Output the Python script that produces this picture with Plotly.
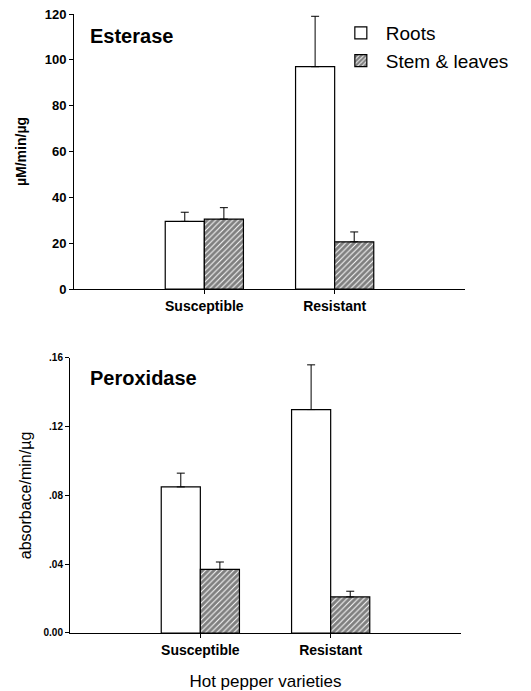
import plotly.graph_objects as go

categories = ["Susceptible", "Resistant"]

est_roots = [29.5, 97.0]
est_roots_err = [4.0, 22.0]
est_stem = [30.5, 20.6]
est_stem_err = [5.0, 4.3]

per_roots = [0.085, 0.130]
per_roots_err = [0.008, 0.026]
per_stem = [0.037, 0.021]
per_stem_err = [0.0043, 0.0033]

est_ticks = [0, 20, 40, 60, 80, 100, 120]
est_ticktext = ["0", "20", "40", "60", "80", "100", "120"]
per_ticks = [0, 0.04, 0.08, 0.12, 0.16]
per_ticktext = ["0.00", ".04", ".08", ".12", ".16"]

FONT = "Liberation Sans, Arial, sans-serif"

def err(arr):
    return dict(type="data", array=arr, arrayminus=[0] * len(arr), symmetric=False,
                color="black", thickness=1, width=4)

fig = go.Figure()

def add_pair(roots, roots_err, stem, stem_err, xa, ya, show):
    fig.add_trace(go.Bar(
        x=categories, y=roots, name="Roots", xaxis=xa, yaxis=ya,
        marker=dict(color="white", line=dict(color="black", width=1.2)),
        error_y=err(roots_err), showlegend=show, legendgroup="r"))
    fig.add_trace(go.Bar(
        x=categories, y=stem, name="Stem & leaves", xaxis=xa, yaxis=ya,
        marker=dict(color="white", line=dict(color="black", width=1.2),
                    pattern=dict(shape="/", fgcolor="black", bgcolor="white",
                                 size=4, solidity=0.75)),
        error_y=err(stem_err), showlegend=show, legendgroup="s"))

add_pair(est_roots, est_roots_err, est_stem, est_stem_err, "x", "y", True)
add_pair(per_roots, per_roots_err, per_stem, per_stem_err, "x2", "y2", False)

catfont = dict(family=FONT, size=14, color="black", weight="bold")

common = dict(showline=True, linecolor="black", linewidth=1, ticks="outside",
              ticklen=4, tickcolor="black", showgrid=False, zeroline=False,
              automargin=False, ticklabeloverflow="allow")

fig.update_layout(
    width=523, height=683,
    margin=dict(l=62, r=66, t=6, b=58),
    paper_bgcolor="white", plot_bgcolor="white",
    barmode="group", bargap=0.4, bargroupgap=0,
    font=dict(family=FONT, color="black"),
    xaxis=dict(domain=[0.0101, 1.0], anchor="y", type="category", range=[-1, 2],
               tickfont=catfont, **common),
    yaxis=dict(domain=[0.5557, 1.0], anchor="x", range=[0, 120],
               tickvals=est_ticks, ticktext=est_ticktext,
               tickfont=dict(family=FONT, size=13, color="black", weight="bold"),
               title=dict(text="µM/min/µg", font=dict(family=FONT, size=14, weight="bold"),
                          standoff=14), **common),
    xaxis2=dict(domain=[0.0, 0.9899], anchor="y2", type="category", range=[-1, 2],
                tickfont=catfont,
                title=dict(text="Hot pepper varieties", font=dict(family=FONT, size=17),
                           standoff=18), **common),
    yaxis2=dict(domain=[0.0, 0.4443], anchor="x2", range=[0, 0.16],
                tickvals=per_ticks, ticktext=per_ticktext,
                tickfont=dict(family=FONT, size=10, color="black", weight="bold"),
                title=dict(text="absorbace/min/µg", font=dict(family=FONT, size=16),
                           standoff=7), **common),
    legend=dict(x=0.673, y=1.0, xanchor="left", yanchor="top",
                font=dict(family=FONT, size=19, color="black"),
                bgcolor="rgba(0,0,0,0)", tracegroupgap=0, itemwidth=40),
    annotations=[
        dict(text="Esterase", xref="paper", yref="paper", x=0.045, y=0.985,
             xanchor="left", yanchor="top", showarrow=False,
             font=dict(family=FONT, size=20, color="black", weight="bold")),
        dict(text="Peroxidase", xref="paper", yref="paper", x=0.045, y=0.433,
             xanchor="left", yanchor="top", showarrow=False,
             font=dict(family=FONT, size=20, color="black", weight="bold")),
    ],
)

fig.write_html("out.html")
